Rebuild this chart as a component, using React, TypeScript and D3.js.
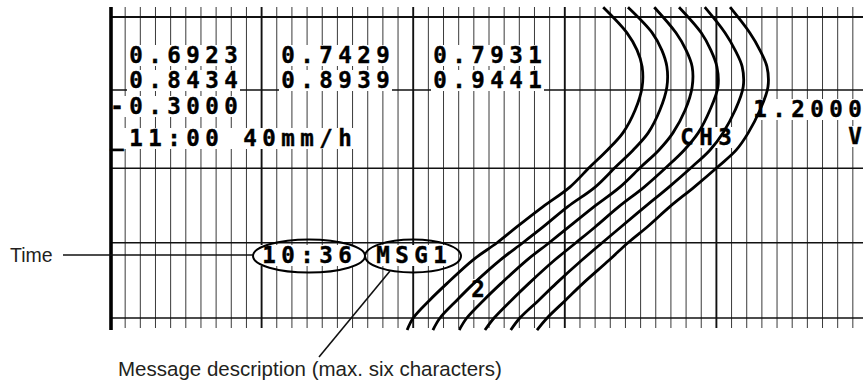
import React from "react";
import * as d3 from "d3";

const W = 863;
const H = 385;

// Recorder value span (printed as -0.3000 … 1.2000) and chart divisions
const valueDomain: [number, number] = [-0.3, 1.2];
const valueDivisions = 50;
const majorEvery = 10;

// Time, in chart divisions measured downward from the top grid line
const timeDomain: [number, number] = [0, 4];
const hGridTimes = [0, 0.97, 2.01, 3, 4];

const sampleTimes = [-0.13, 0.21, 0.44, 0.66, 0.93, 1.24, 1.54, 1.77, 1.99, 2.26, 2.52, 2.79, 3.0, 3.23, 3.54, 3.76, 4.0, 4.16];

const ch1 = [0.676, 0.723, 0.743, 0.753, 0.753, 0.739, 0.715, 0.684, 0.650, 0.610, 0.557, 0.505, 0.466, 0.418, 0.367, 0.333, 0.300, 0.288];
const ch2 = [0.725, 0.773, 0.792, 0.802, 0.802, 0.788, 0.765, 0.735, 0.701, 0.660, 0.606, 0.557, 0.517, 0.472, 0.420, 0.387, 0.353, 0.339];
const ch3 = [0.777, 0.820, 0.840, 0.852, 0.852, 0.838, 0.814, 0.786, 0.751, 0.709, 0.658, 0.608, 0.569, 0.525, 0.474, 0.440, 0.406, 0.391];
const ch4 = [0.826, 0.870, 0.889, 0.901, 0.903, 0.887, 0.864, 0.836, 0.802, 0.757, 0.707, 0.660, 0.622, 0.580, 0.529, 0.495, 0.460, 0.442];
const ch5 = [0.877, 0.917, 0.937, 0.951, 0.953, 0.937, 0.913, 0.887, 0.852, 0.806, 0.759, 0.711, 0.674, 0.634, 0.583, 0.549, 0.511, 0.493];
const ch6 = [0.927, 0.966, 0.986, 1.000, 1.002, 0.986, 0.963, 0.939, 0.903, 0.856, 0.808, 0.763, 0.725, 0.688, 0.636, 0.602, 0.565, 0.545];
const channels = [ch1, ch2, ch3, ch4, ch5, ch6];

// Printed texts
const printedValuesRow1 = ["0.6923", "0.7429", "0.7931"];
const printedValuesRow2 = ["0.8434", "0.8939", "0.9441"];
const scaleLowLabel = "-0.3000";
const scaleHighLabel = "1.2000";
const headerLabel = "_11:00 40mm/h";
const channelLabel = "CH3";
const unitLabel = "V";
const msgTimeLabel = "10:36";
const msgTextLabel = "MSG1";
const traceLabel = "2";
const timeCallout = "Time";
const msgCallout = "Message description (max. six characters)";

export default function App() {
  const left = 110;
  const right = 868;
  const top = 17;
  const bottom = 318;
  const gridTop = 7;
  const gridBottom = 328;

  const x = d3.scaleLinear().domain(valueDomain).range([left, right]);
  const y = d3.scaleLinear().domain(timeDomain).range([top, bottom]);

  const step = (valueDomain[1] - valueDomain[0]) / valueDivisions;
  const vIdx = d3.range(1, valueDivisions);

  // character grid of the printer
  const col = d3.scaleLinear().domain([0, 1]).range([136, 155]);
  const fontSize = 22.5;
  const mono = "'DejaVu Sans Mono', 'Liberation Mono', monospace";
  const sans = "'Liberation Sans', Arial, Helvetica, sans-serif";

  type P = { t: string; c: number; b: number; dx?: number };
  const printed: P[] = [
    ...printedValuesRow1.map((t, i) => ({ t, c: i * 8, b: 63 })),
    ...printedValuesRow2.map((t, i) => ({ t, c: i * 8, b: 88 })),
    { t: scaleLowLabel, c: -1, b: 114 },
    { t: scaleHighLabel, c: 33, b: 117, dx: -3 },
    { t: headerLabel, c: -1, b: 146 },
    { t: channelLabel, c: 29, b: 145 },
    { t: unitLabel, c: 38, b: 144, dx: -3 },
    { t: msgTimeLabel, c: 7, b: 263 },
    { t: msgTextLabel, c: 13, b: 263 },
    { t: traceLabel, c: 18, b: 297 },
  ];

  const line = d3
    .line<number>()
    .x((v) => x(v))
    .y((_, i) => y(sampleTimes[i]))
    .curve(d3.curveCatmullRom.alpha(0.5));

  const timeY = 255;
  const e1 = { cx: 309, cy: 256, rx: 56, ry: 16.5 };
  const e2 = { cx: 413, cy: 256, rx: 48, ry: 16.5 };

  return (
    <svg
      width={W}
      height={H}
      viewBox={`0 0 ${W} ${H}`}
      style={{ position: "absolute", left: 0, top: 0, display: "block", background: "#fff" }}
    >
      <rect x={0} y={0} width={W} height={H} fill="#fff" />
      {/* vertical grid */}
      {vIdx.map((i) => {
        const xv = x(valueDomain[0] + i * step);
        const major = i % majorEvery === 0;
        return (
          <line
            key={"v" + i}
            x1={xv}
            x2={xv}
            y1={gridTop}
            y2={gridBottom}
            stroke={major ? "#111" : "#3a3a3a"}
            strokeWidth={major ? 1.9 : 1}
          />
        );
      })}
      {/* horizontal grid */}
      {hGridTimes.map((t, i) => (
        <line
          key={"h" + i}
          x1={left + 2}
          x2={W}
          y1={y(t)}
          y2={y(t)}
          stroke="#111"
          strokeWidth={i === 0 ? 1.8 : 1.5}
        />
      ))}
      {/* backgrounds behind printed text */}
      {printed.map((p, i) => (
        <rect
          key={"bg" + i}
          x={col(p.c) - 9 + (p.dx || 0)}
          y={p.b - 18}
          width={col(p.c + p.t.length - 1) - col(p.c) + 18}
          height={21}
          fill="#fff"
        />
      ))}
      {/* left thick border */}
      <line x1={left + 1} x2={left + 1} y1={gridTop} y2={330} stroke="#000" strokeWidth={3.6} />
      {/* printed characters */}
      {printed.map((p, i) =>
        p.t.split("").map((ch, k) =>
          ch === " " ? null : (
            <text
              key={"t" + i + "_" + k}
              x={col(p.c + k) + (p.dx || 0)}
              y={p.b}
              textAnchor="middle"
              fontFamily={mono}
              fontWeight="bold"
              fontSize={fontSize}
              fill="#000"
              stroke="#000"
              strokeWidth={0.4}
            >
              {ch}
            </text>
          )
        )
      )}
      {/* ellipses */}
      <ellipse cx={e1.cx} cy={e1.cy} rx={e1.rx} ry={e1.ry} fill="none" stroke="#000" strokeWidth={2} />
      <ellipse cx={e2.cx} cy={e2.cy} rx={e2.rx} ry={e2.ry} fill="none" stroke="#000" strokeWidth={2} />
      {/* traces */}
      {channels.map((c, i) => (
        <path key={"c" + i} d={line(c) || ""} fill="none" stroke="#000" strokeWidth={2.8} strokeLinejoin="round" />
      ))}
      {/* callouts */}
      <line x1={63} x2={e1.cx - e1.rx} y1={timeY} y2={timeY} stroke="#111" strokeWidth={1.6} />
      <text x={10} y={262} fontFamily={sans} fontSize={19.5} fill="#231f20">
        {timeCallout}
      </text>
      <line x1={390} y1={271} x2={319} y2={357} stroke="#111" strokeWidth={1.6} />
      <text x={118} y={376} fontFamily={sans} fontSize={20.5} fill="#231f20">
        {msgCallout}
      </text>
    </svg>
  );
}
